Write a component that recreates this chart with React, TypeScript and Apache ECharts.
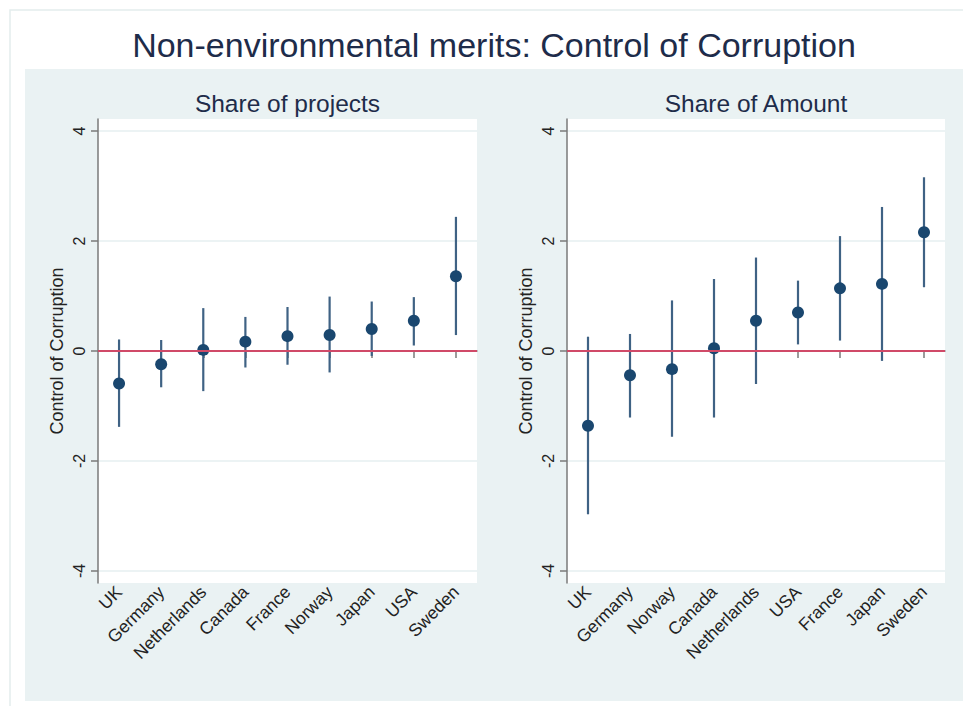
import React, { useEffect, useRef } from "react";
import * as echarts from "echarts";

const mainTitle = "Non-environmental merits: Control of Corruption";
const panelTitles = ["Share of projects", "Share of Amount"];
const yAxisName = "Control of Corruption";
const yTicks = [-4, -2, 0, 2, 4];

const projCountries = ["UK", "Germany", "Netherlands", "Canada", "France", "Norway", "Japan", "USA", "Sweden"];
const projEst = [-0.59, -0.24, 0.02, 0.17, 0.27, 0.29, 0.4, 0.55, 1.36];
const projLow = [-1.38, -0.66, -0.73, -0.3, -0.25, -0.39, -0.09, 0.1, 0.29];
const projHigh = [0.21, 0.2, 0.78, 0.62, 0.8, 0.99, 0.9, 0.98, 2.44];

const amtCountries = ["UK", "Germany", "Norway", "Canada", "Netherlands", "USA", "France", "Japan", "Sweden"];
const amtEst = [-1.36, -0.44, -0.33, 0.05, 0.55, 0.7, 1.14, 1.22, 2.16];
const amtLow = [-2.97, -1.21, -1.56, -1.21, -0.6, 0.12, 0.19, -0.18, 1.16];
const amtHigh = [0.26, 0.31, 0.92, 1.31, 1.7, 1.28, 2.09, 2.62, 3.16];

const FONT = "'Liberation Sans', Arial, Helvetica, sans-serif";
const DOT = "#1a476f";
const BAR = "#3f6284";
const ZERO = "#d04a68";
const TEXT = "#1e2c4a";

export default function App() {
  const ref = useRef<HTMLDivElement>(null);
  useEffect(() => {
    if (!ref.current) return;
    const chart = echarts.init(ref.current, undefined, { renderer: "svg" });
    const grids = [
      { left: 98, top: 119, width: 379, height: 464 },
      { left: 567, top: 119, width: 378, height: 464 },
    ];
    const cats = [projCountries, amtCountries];
    const xAxis = cats.map((c, i) => ({
      type: "category",
      gridIndex: i,
      data: c,
      boundaryGap: true,
      axisLine: { show: true, lineStyle: { color: "#7a7a7a", width: 1.5 } },
      axisTick: { show: true, alignWithLabel: true, length: 7, lineStyle: { color: "#7a7a7a", width: 1.5 } },
      axisLabel: { rotate: 45, fontSize: 17.5, fontFamily: FONT, color: "#222", margin: 6, interval: 0 },
      splitLine: { show: false },
    }));
    const yAxis = [0, 1].map((i) => ({
      type: "value",
      gridIndex: i,
      min: -4.22,
      max: 4.22,
      name: yAxisName,
      nameLocation: "middle",
      nameGap: 32,
      nameRotate: 90,
      nameTextStyle: { fontSize: 18, fontFamily: FONT, color: "#222" },
      axisLine: { show: true, lineStyle: { color: "#7a7a7a", width: 1.5 } },
      axisTick: { show: true, length: 7, customValues: yTicks, lineStyle: { color: "#7a7a7a", width: 1.5 } },
      axisLabel: { rotate: 90, fontSize: 16, fontFamily: FONT, color: "#222", margin: 11, customValues: yTicks },
      splitLine: { show: true, lineStyle: { color: "#e6eff1", width: 1.5 } },
    }));
    const ests = [projEst, amtEst];
    const lows = [projLow, amtLow];
    const highs = [projHigh, amtHigh];
    const series: any[] = [];
    [0, 1].forEach((i) => {
      series.push({
        type: "custom",
        xAxisIndex: i,
        yAxisIndex: i,
        z: 2,
        data: lows[i].map((lo, k) => [k, lo, highs[i][k]]),
        encode: { x: 0, y: [1, 2] },
        renderItem: (params: any, api: any) => {
          const x = api.value(0);
          const a = api.coord([x, api.value(1)]);
          const b = api.coord([x, api.value(2)]);
          return {
            type: "line",
            shape: { x1: a[0], y1: a[1], x2: b[0], y2: b[1] },
            style: { stroke: BAR, lineWidth: 2.2 },
          };
        },
        markLine: {
          silent: true,
          symbol: "none",
          label: { show: false },
          lineStyle: { color: ZERO, width: 2, type: "solid" },
          data: [{ yAxis: 0 }],
        },
      });
      series.push({
        type: "scatter",
        xAxisIndex: i,
        yAxisIndex: i,
        z: 3,
        symbol: "circle",
        symbolSize: 12,
        itemStyle: { color: DOT, opacity: 1 },
        data: ests[i],
      });
    });
    chart.setOption({
      animation: false,
      backgroundColor: "#ffffff",
      grid: grids.map((g) => ({ ...g, show: true, backgroundColor: "#ffffff", borderWidth: 0 })),
      xAxis,
      yAxis,
      series,
      graphic: [
        {
          type: "rect",
          z: -20,
          silent: true,
          shape: { x: 10, y: 10, width: 970, height: 710 },
          style: { fill: "#ffffff", stroke: "#e4eded", lineWidth: 1.5 },
        },
        {
          type: "rect",
          z: -10,
          silent: true,
          shape: { x: 25, y: 69, width: 960, height: 632 },
          style: { fill: "#eaf2f3" },
        },
        {
          type: "text",
          x: 494,
          y: 45,
          style: { text: mainTitle, fontSize: 34, fontFamily: FONT, fill: TEXT, textAlign: "center", textVerticalAlign: "middle" },
        },
        {
          type: "text",
          x: 287.5,
          y: 103,
          style: { text: panelTitles[0], fontSize: 24.5, fontFamily: FONT, fill: TEXT, textAlign: "center", textVerticalAlign: "middle" },
        },
        {
          type: "text",
          x: 756,
          y: 103,
          style: { text: panelTitles[1], fontSize: 24.5, fontFamily: FONT, fill: TEXT, textAlign: "center", textVerticalAlign: "middle" },
        },
      ],
    });
    return () => chart.dispose();
  }, []);
  return <div ref={ref} style={{ position: "absolute", left: 0, top: 0, width: 963, height: 706 }} />;
}
